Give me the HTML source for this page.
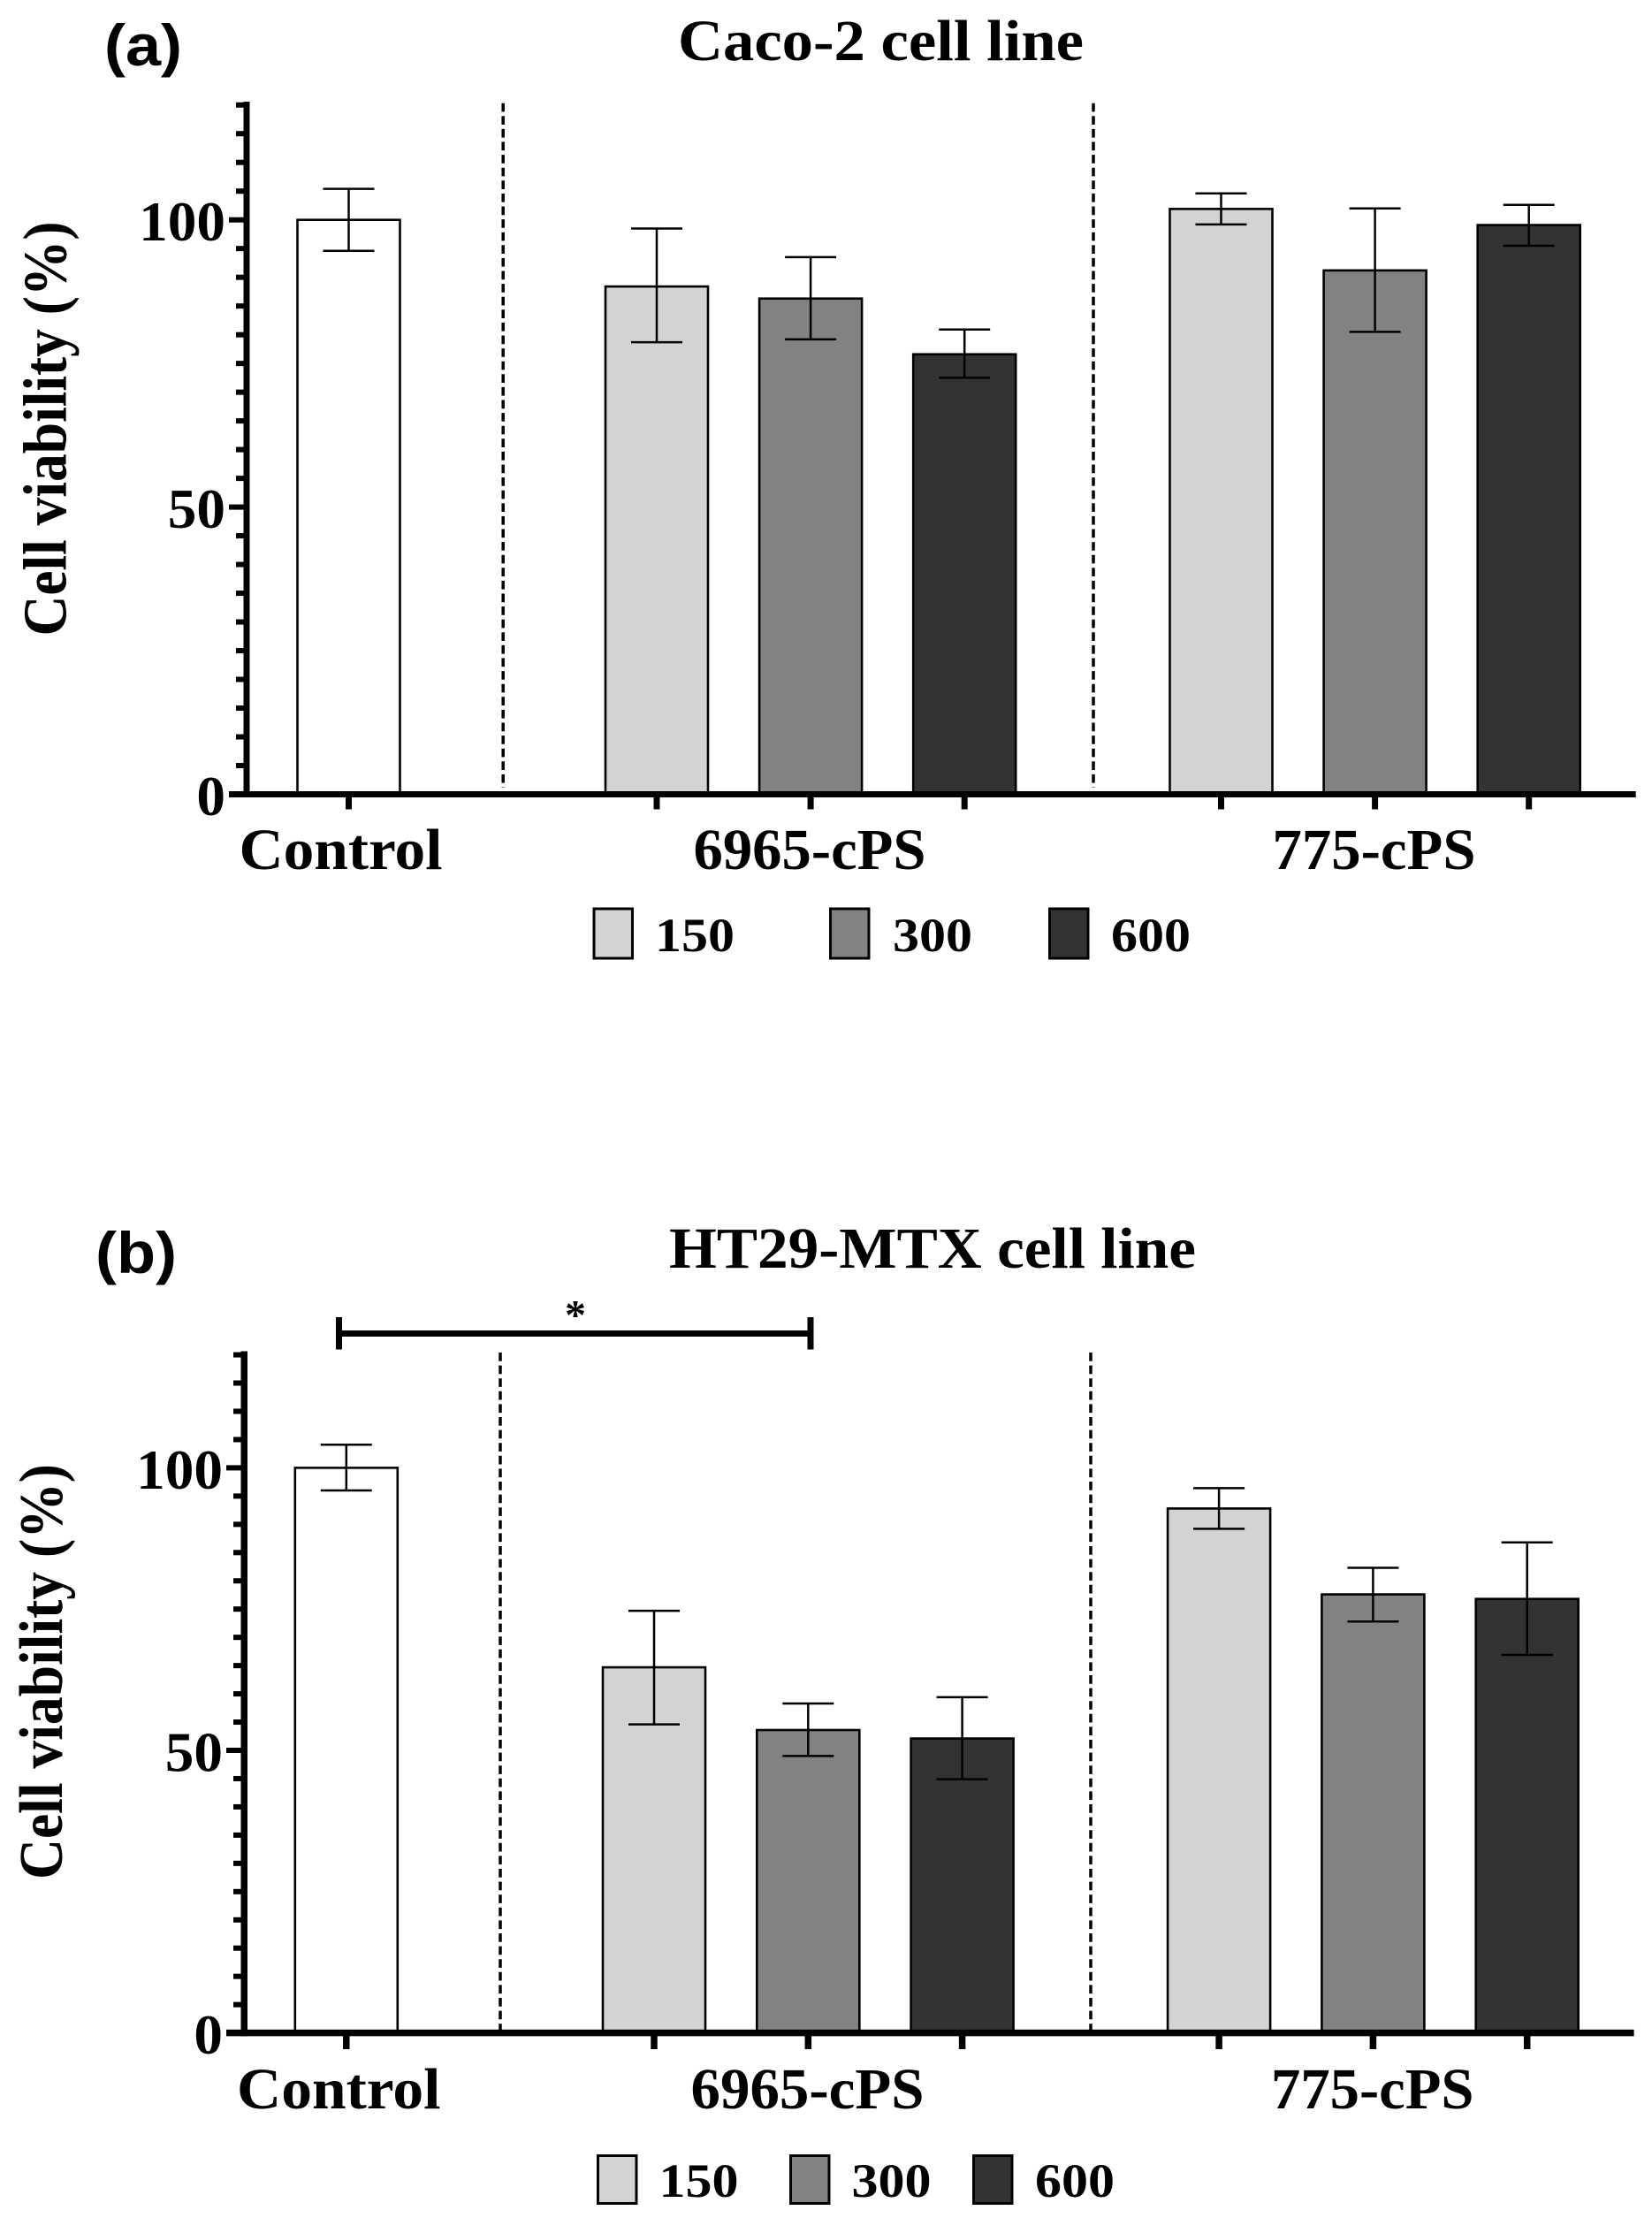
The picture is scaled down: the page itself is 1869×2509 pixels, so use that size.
<!DOCTYPE html>
<html lang="en">
<head>
<meta charset="utf-8">
<title>Cell viability charts</title>
<style>
html,body{margin:0;padding:0;background:#fff;}
svg{display:block;}
text{fill:#000;}
.serif{font-family:"Liberation Serif",serif;font-weight:700;}
.sans{font-family:"Liberation Sans",sans-serif;font-weight:700;}
</style>
</head>
<body>
<svg id="figure" xmlns="http://www.w3.org/2000/svg" width="1869" height="2509" viewBox="0 0 1869 2509">
  <rect x="0" y="0" width="1869" height="2509" fill="#ffffff"/>
  <text class="sans" x="118" y="74" font-size="66" textLength="88" lengthAdjust="spacingAndGlyphs">(a)</text>
  <text class="serif" x="767" y="68" font-size="66" textLength="459" lengthAdjust="spacingAndGlyphs">Caco-2 cell line</text>
  <text class="sans" x="108" y="1440" font-size="66" textLength="92" lengthAdjust="spacingAndGlyphs">(b)</text>
  <text class="serif" x="757" y="1434" font-size="66" textLength="596" lengthAdjust="spacingAndGlyphs">HT29-MTX cell line</text>
  <text class="serif" transform="translate(74.5,719.5) rotate(-90)" x="0" y="0" font-size="70" textLength="469" lengthAdjust="spacingAndGlyphs">Cell viability (%)</text>
  <text class="serif" transform="translate(70,2126) rotate(-90)" x="0" y="0" font-size="70" textLength="470" lengthAdjust="spacingAndGlyphs">Cell viability (%)</text>
  <g>
    <rect x="380" y="1505" width="540" height="7" fill="#000"/>
    <rect x="380" y="1490" width="7" height="36.5" fill="#000"/>
    <rect x="913.5" y="1490" width="7" height="36.5" fill="#000"/>
    <text class="serif" x="651" y="1503.5" font-size="48" text-anchor="middle">*</text>
  </g>
</svg>
<script>
const groupLabels = ['Control', '6965-cPS', '775-cPS'];
const barsPerGroup = [1, 3, 3];
const doseLabels = ['150', '300', '600'];
const yTickValues = [0, 50, 100];

const caco2Means = [100, 88.4, 86.3, 76.6, 101.9, 91.2, 99.1];
const caco2Upper = [105.4, 98.5, 93.5, 80.9, 104.6, 102, 102.6];
const caco2Lower = [94.6, 78.7, 79.2, 72.5, 99.2, 80.5, 95.5];

const ht29Means = [100, 64.7, 53.6, 52.1, 92.8, 77.6, 76.8];
const ht29Upper = [104.1, 74.7, 58.3, 59.4, 96.4, 82.3, 86.8];
const ht29Lower = [96, 54.6, 49, 44.9, 89.2, 72.8, 66.9];

const SVG_NS = 'http://www.w3.org/2000/svg';
const figure = document.getElementById('figure');
const doseFills = ['#d3d3d3', '#828282', '#333333'];

function shape(parent, tag, attrs) {
  const el = document.createElementNS(SVG_NS, tag);
  for (const k in attrs) el.setAttribute(k, attrs[k]);
  parent.appendChild(el);
  return el;
}

function drawPanel(id, means, upper, lower, L) {
  const g = shape(figure, 'g', {});
  
  

  const yScale = v => L.y0 - v * L.pxPerUnit;
  const xScale = (groupIndex, barIndex) => L.x0 + L.groupOffset[groupIndex] + barIndex * L.step;

  // separators
  L.dashX.forEach((x, i) => {
    const d = shape(g, 'line', {x1: x, x2: x, y1: L.dashTop, y2: L.dashBottom, stroke: '#000', 'stroke-width': 3.5, 'stroke-dasharray': '9.7 4.9'});
    
    
  });

  // bars + error bars
  let k = 0;
  groupLabels.forEach((label, gi) => {
    for (let b = 0; b < barsPerGroup[gi]; b++, k++) {
      const cx = xScale(gi, b);
      const fill = gi === 0 ? '#ffffff' : doseFills[b];
      const top = yScale(means[k]);
      const bar = shape(g, 'rect', {x: cx - L.barW / 2, y: top, width: L.barW, height: L.y0 - top, fill: fill, stroke: '#000', 'stroke-width': 2.6});
      
      

      const err = shape(g, 'path', {
        d: 'M' + cx + ' ' + yScale(upper[k]) + 'V' + yScale(lower[k]) +
           'M' + (cx - L.capW / 2) + ' ' + yScale(upper[k]) + 'H' + (cx + L.capW / 2) +
           'M' + (cx - L.capW / 2) + ' ' + yScale(lower[k]) + 'H' + (cx + L.capW / 2),
        fill: 'none', stroke: '#000', 'stroke-width': 2.5
      });
      
      

      const tick = shape(g, 'rect', {x: cx - L.axisW / 2, y: L.y0, width: L.axisW, height: L.xTickEnd - L.y0, fill: '#000'});
      
      
    }
    const text = shape(g, 'text', {class: 'serif', x: L.labelX[gi], y: L.labelY, 'font-size': 66, textLength: L.labelW[gi], lengthAdjust: 'spacingAndGlyphs'});
    text.textContent = label;
    
    
  });

  // y axis minor ticks every 5 units up to 120, majors from yTickValues
  for (let v = 0; v <= 120; v += 5) {
    const major = yTickValues.indexOf(v) >= 0;
    const left = major ? L.axisX - L.majorLen : L.axisX - L.minorLen;
    const tick = shape(g, 'rect', {x: left, y: yScale(v) - L.tickH / 2, width: L.axisX - left, height: L.tickH, fill: '#000'});
    
    
  }
  yTickValues.forEach(v => {
    const str = String(v);
    const t = shape(g, 'text', {class: 'serif', x: L.yLabelRight, y: yScale(v) + 23.5, 'font-size': 63, 'text-anchor': 'end', textLength: str.length * 32.6, lengthAdjust: 'spacingAndGlyphs'});
    t.textContent = str;
    
    
  });

  // axes
  const yAxis = shape(g, 'rect', {x: L.axisX, y: L.axisTop, width: L.axisW, height: L.y0 - L.axisTop + L.axisW / 2, fill: '#000'});
  
  
  const xAxis = shape(g, 'rect', {x: L.axisX - L.majorLen, y: L.y0 - L.axisW / 2, width: L.xAxisEnd - L.axisX + L.majorLen, height: L.axisW, fill: '#000'});
  
  

  // legend
  doseLabels.forEach((dose, i) => {
    const entry = shape(g, 'g', {});
    
    
    const sw = shape(entry, 'rect', {x: L.swatchX[i] + 1.5, y: L.swatchY, width: 43.5, height: L.swatchH, fill: doseFills[i], stroke: '#000', 'stroke-width': 3});
    
    
    const t = shape(entry, 'text', {class: 'serif', x: L.legendTextX[i], y: L.legendY, 'font-size': 54, textLength: 90, lengthAdjust: 'spacingAndGlyphs'});
    t.textContent = dose;
    
    
  });
}

drawPanel('a', caco2Means, caco2Upper, caco2Lower, {
  y0: 898.5, pxPerUnit: 6.498, x0: 394.5, step: 174.1, groupOffset: [0, 348.5, 987],
  barW: 116, capW: 58, axisX: 275.5, axisW: 7, axisTop: 115, xAxisEnd: 1850.7,
  majorLen: 16.5, minorLen: 8.5, tickH: 6, xTickEnd: 915.5, yLabelRight: 255,
  dashX: [569.2, 1237], dashTop: 116.7, dashBottom: 891,
  labelX: [270.5, 784.5, 1439.5], labelW: [230, 263, 230], labelY: 983,
  swatchX: [670.5, 938, 1186], swatchY: 1028, swatchH: 56, legendTextX: [741, 1010, 1257], legendY: 1076
});

drawPanel('b', ht29Means, ht29Upper, ht29Lower, {
  y0: 2299.6, pxPerUnit: 6.392, x0: 391.8, step: 174.3, groupOffset: [0, 348.2, 987.3],
  barW: 116, capW: 58, axisX: 272.5, axisW: 7.5, axisTop: 1528.5, xAxisEnd: 1848.6,
  majorLen: 16.5, minorLen: 8.5, tickH: 6, xTickEnd: 2318, yLabelRight: 252,
  dashX: [566, 1234], dashTop: 1530, dashBottom: 2296,
  labelX: [268, 781.5, 1438], labelW: [230.5, 264, 229.5], labelY: 2385,
  swatchX: [675, 893, 1100], swatchY: 2438.5, swatchH: 54, legendTextX: [745.5, 963.5, 1171], legendY: 2485
});
</script>
</body>
</html>
